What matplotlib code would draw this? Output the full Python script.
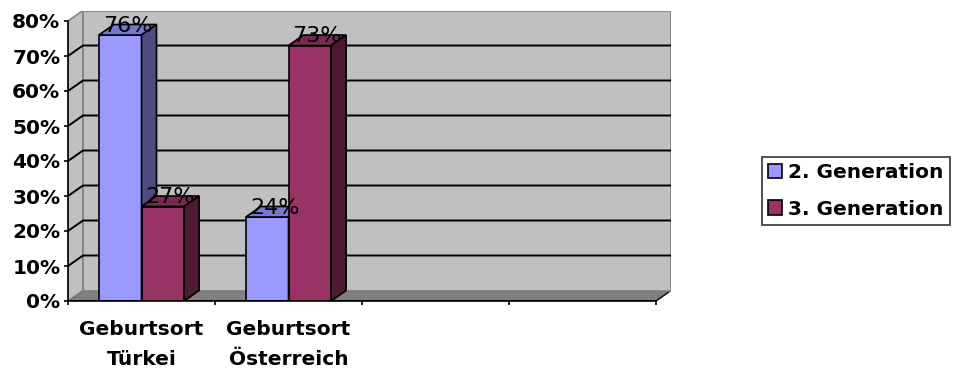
import matplotlib
matplotlib.use("Agg")
import matplotlib.pyplot as plt
from matplotlib.patches import Polygon, Patch

# Anteile nach Geburtsort
kategorien = ["Geburtsort\nTürkei", "Geburtsort\nÖsterreich", "", ""]
serien = ["2. Generation", "3. Generation"]
gen2 = [76, 24]
gen3 = [27, 73]

farben_front = ["#9999FF", "#993366"]
farben_top = ["#7777CC", "#7A2952"]
farben_side = ["#4C4C80", "#4D1A33"]

W_PX, H_PX = 956, 371
fig = plt.figure(figsize=(W_PX / 100, H_PX / 100), dpi=100)
plt.rcParams['font.family'] = ['DejaVu Sans']

# Tiefe der 3D-Darstellung in Datenkoordinaten
DX = 15 / 147
DY = 3.0
n_kat = len(kategorien)

x0_px, y0_px = 68, 301
ax = fig.add_axes([x0_px / W_PX, 1 - y0_px / H_PX,
                   (n_kat + DX) * 147 / W_PX, (80 + DY) * 3.5 / H_PX])
ax.set_xlim(0, n_kat + DX)
ax.set_ylim(0, 80 + DY)
ax.patch.set_visible(False)

wand = "#C0C0C0"
wandkante = "#808080"
# Boden, Seitenwand, Rueckwand
ax.add_patch(Polygon([(0, 0), (n_kat, 0), (n_kat + DX, DY), (DX, DY)],
                     closed=True, fc="#808080", ec="black", lw=1, zorder=1))
ax.add_patch(Polygon([(0, 0), (DX, DY), (DX, 80 + DY), (0, 80)],
                     closed=True, fc=wand, ec=wandkante, lw=1.2, zorder=1))
ax.add_patch(Polygon([(DX, DY), (n_kat + DX, DY), (n_kat + DX, 80 + DY), (DX, 80 + DY)],
                     closed=True, fc=wand, ec=wandkante, lw=1.2, zorder=1))

# Gitternetzlinien auf Seiten- und Rueckwand
for v in range(10, 80, 10):
    ax.plot([0, DX, n_kat + DX], [v, v + DY, v + DY], color="black", lw=1.4, zorder=2)

breite = 0.29
werte = [gen2, gen3]
for s in range(len(serien)):
    xs = [i + 0.5 - breite + s * breite for i in range(len(werte[s]))]
    ax.bar(xs, werte[s], width=breite, align="edge", color=farben_front[s],
           edgecolor="black", lw=1.2, zorder=3 + 3 * s)
    for x, h in zip(xs, werte[s]):
        ax.add_patch(Polygon([(x, h), (x + breite, h), (x + breite + DX, h + DY), (x + DX, h + DY)],
                             closed=True, fc=farben_top[s], ec="black", lw=1.2, zorder=4 + 3 * s))
        ax.add_patch(Polygon([(x + breite, 0), (x + breite + DX, DY), (x + breite + DX, h + DY), (x + breite, h)],
                             closed=True, fc=farben_side[s], ec="black", lw=1.2, zorder=4 + 3 * s))

# Datenbeschriftungen
for s in range(len(serien)):
    for i, h in enumerate(werte[s]):
        x = i + 0.5 - breite + s * breite + breite / 2 + DX / 2
        ax.text(x, h + DY * 0.3, f"{h}%", ha="center", va="baseline",
                fontsize=16, color="black", zorder=20)

# Achsen
for sp in ["top", "right"]:
    ax.spines[sp].set_visible(False)
ax.spines["left"].set_bounds(0, 80)
ax.spines["bottom"].set_bounds(0, n_kat)
ax.spines["left"].set_zorder(15)
ax.spines["bottom"].set_zorder(15)
ax.spines["left"].set_linewidth(1.2)
ax.spines["bottom"].set_linewidth(1.2)

ax.set_yticks(range(0, 81, 10))
ax.set_yticklabels([f"{v}%" for v in range(0, 81, 10)], fontsize=14.5, fontweight="bold")
ax.tick_params(axis="y", direction="out", length=3, width=1.2, pad=2.5)

ax.set_xticks(range(0, n_kat + 1))
ax.set_xticklabels([])
ax.tick_params(axis="x", direction="out", length=3, width=1.2)
ax.set_xticks([i + 0.5 for i in range(n_kat)], minor=True)
ax.set_xticklabels(kategorien, minor=True, fontsize=14.5, fontweight="bold", linespacing=1.7)
ax.tick_params(axis="x", which="minor", length=0, pad=14)

# Legende
handles = [Patch(fc=farben_front[s], ec="black", lw=1.2) for s in range(len(serien))]
leg = fig.legend(handles, serien, loc="center left",
                 bbox_to_anchor=(762 / W_PX, 1 - 191 / H_PX),
                 prop={"size": 14.5, "weight": "bold"}, frameon=True, fancybox=False,
                 edgecolor="black", handlelength=0.7, handleheight=0.7,
                 handletextpad=0.3, borderpad=0.3, labelspacing=0.85, borderaxespad=0)
leg.get_frame().set_linewidth(1.2)

fig.savefig("out.png", dpi=100, facecolor="white")
